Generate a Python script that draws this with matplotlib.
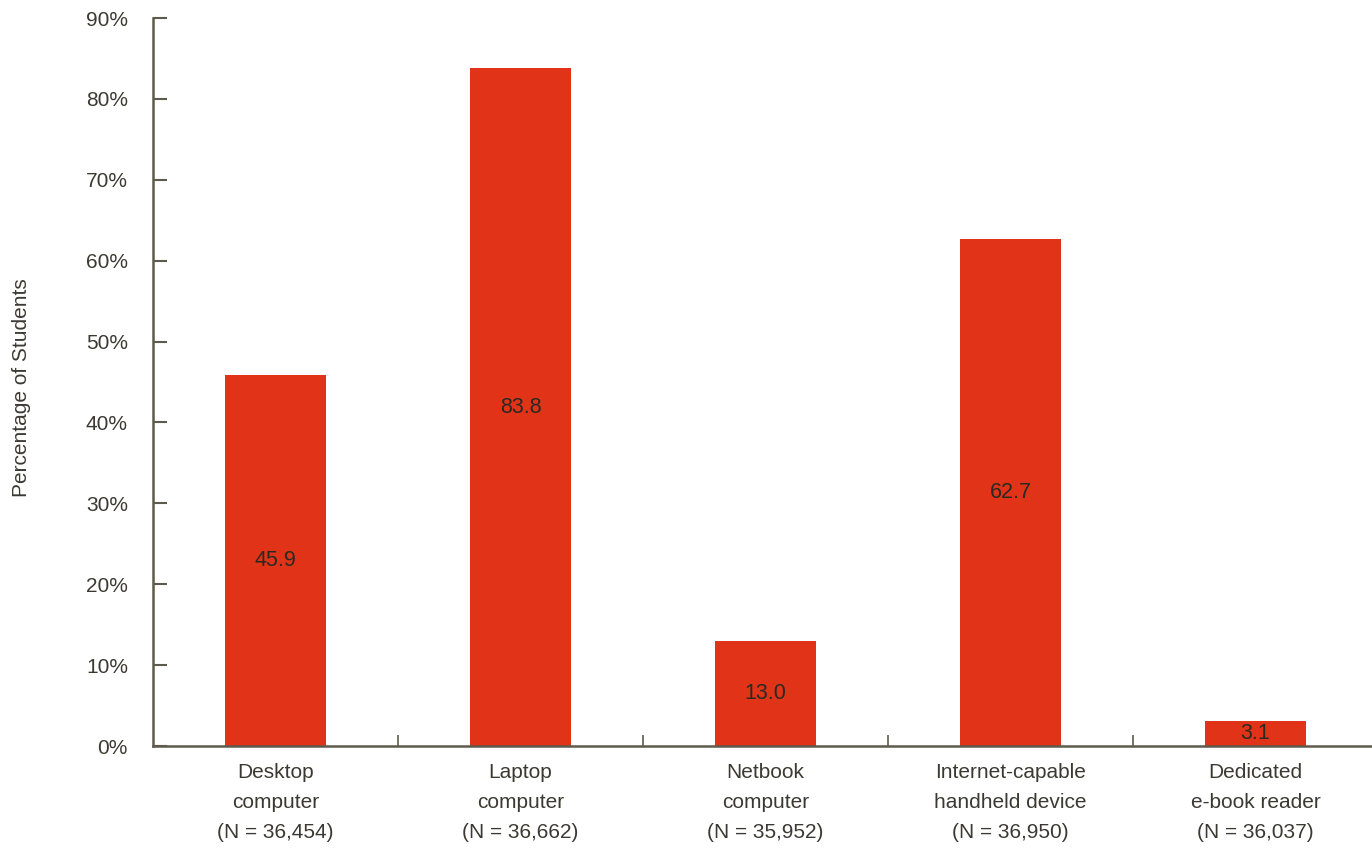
import matplotlib.pyplot as plt
from matplotlib import font_manager

categories = ['Desktop\ncomputer\n(N = 36,454)',
              'Laptop\ncomputer\n(N = 36,662)',
              'Netbook\ncomputer\n(N = 35,952)',
              'Internet-capable\nhandheld device\n(N = 36,950)',
              'Dedicated\ne-book reader\n(N = 36,037)']
values = [45.9, 83.8, 13.0, 62.7, 3.1]
yticks = [0, 10, 20, 30, 40, 50, 60, 70, 80, 90]

names = {f.name for f in font_manager.fontManager.ttflist}
fam = 'Liberation Sans Narrow' if 'Liberation Sans Narrow' in names else 'Liberation Sans'
plt.rcParams['font.family'] = [fam, 'DejaVu Sans']

txt = '#3b3a32'
spine = '#5e5a4c'
red = '#e03318'

fig = plt.figure(figsize=(13.72, 8.6), dpi=100)
ax = fig.add_axes([153 / 1372, 114 / 860, 1225 / 1372, 728 / 860])

x = range(len(values))
ax.bar(x, values, width=0.41, color=red, zorder=2)
for i, v in enumerate(values):
    ax.text(i, v / 2, f'{v:.1f}', ha='center', va='center', fontsize=15.5, color='#2a2a22')

ax.set_xlim(-0.5, 4.5)
ax.set_ylim(0, 90)
ax.set_yticks(yticks)
ax.set_yticklabels([f'{t}%' for t in yticks])
ax.set_xticks([0.5, 1.5, 2.5, 3.5])
ax.set_xticklabels([])
ax.set_xticks(list(x), minor=True)
ax.set_xticklabels(categories, minor=True, fontsize=15, color=txt, linespacing=1.75)
ax.tick_params(axis='x', which='minor', length=0, pad=12)
ax.tick_params(axis='x', which='major', direction='in', length=8, color=spine, width=1.2)
ax.tick_params(axis='y', direction='in', length=10, color=spine, width=1.5,
               labelsize=15, labelcolor=txt, pad=18)
for s in ['top', 'right']:
    ax.spines[s].set_visible(False)
for s in ['left', 'bottom']:
    ax.spines[s].set_color(spine)
    ax.spines[s].set_linewidth(1.8)
ax.spines['left'].set_zorder(3)
ax.spines['bottom'].set_zorder(3)

fig.text(22 / 1372, 1 - 388 / 860, 'Percentage of Students', rotation=90,
         ha='center', va='center', fontsize=15, color=txt)

fig.savefig('out.png', dpi=100)
